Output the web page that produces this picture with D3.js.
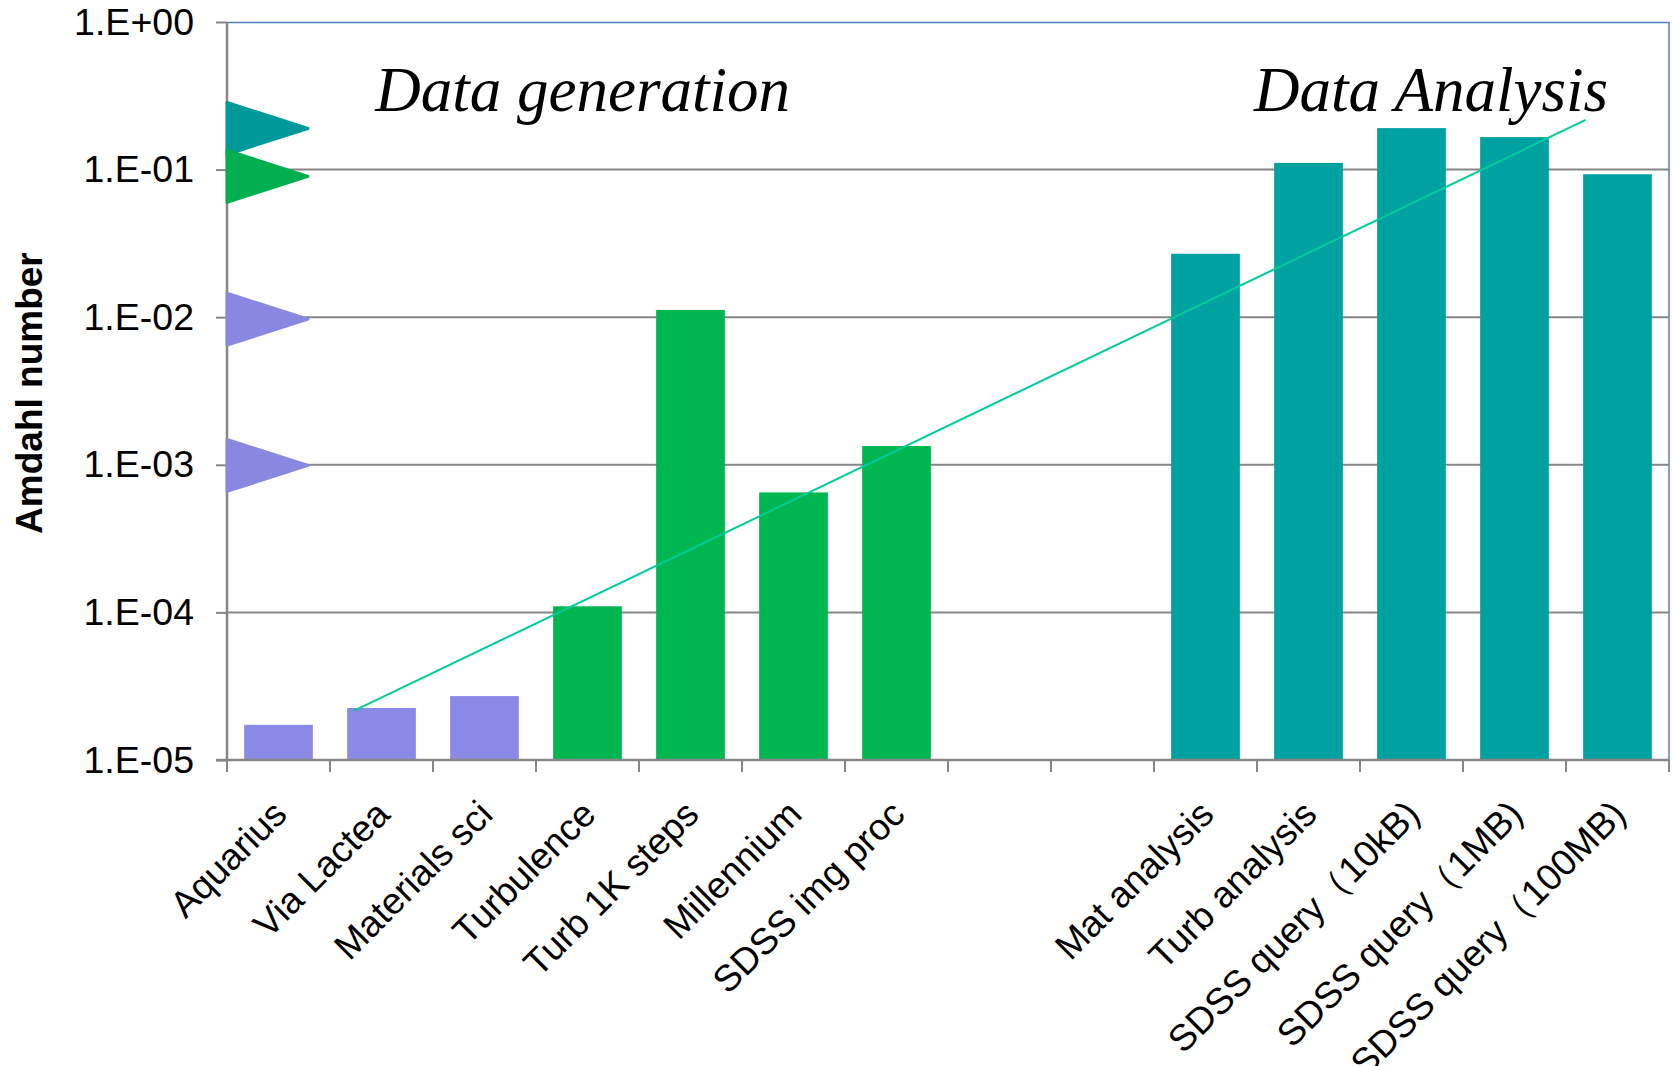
<!DOCTYPE html>
<html>
<head>
<meta charset="utf-8">
<script src="https://cdn.jsdelivr.net/npm/d3@7"></script>
<style>
  html, body { margin: 0; padding: 0; background: #fff; }
  svg { display: block; }
  text { font-family: "Liberation Sans", Arial, sans-serif; fill: #000; }
</style>
</head>
<body>
<svg id="chart" width="1672" height="1066"></svg>
<script>
// Workload names; the two blank slots separate generation from analysis.
const categories = [
  "Aquarius", "Via Lactea", "Materials sci", "Turbulence", "Turb 1K steps",
  "Millennium", "SDSS img proc", "", "", "Mat analysis", "Turb analysis",
  "SDSS query（10kB)", "SDSS query（1MB)", "SDSS query（100MB)"
];
// Amdahl number per workload (null = empty slot).
const amdahl = [
  1.73e-5, 2.25e-5, 2.71e-5, 1.10e-4, 1.12e-2,
  6.5e-4, 1.34e-3, null, null, 2.69e-2, 0.111,
  0.191, 0.166, 0.093
];
// Workload group of each slot.
const groups = [
  "sim", "sim", "sim", "gen", "gen",
  "gen", "gen", null, null, "ana", "ana",
  "ana", "ana", "ana"
];
const groupColors = { sim: "#8a8ae6", gen: "#00b650", ana: "#00a1a1" };

// Reference markers on the value axis.
const markerValues = [0.19, 0.09, 0.0097, 0.00099];
const markerColors = ["#009999", "#00b050", "#8888e0", "#8888e0"];

// Straight trend line, given as (slot position, value) endpoints.
const trendPos = [1.23, 13.19];
const trendVal = [2.15e-5, 0.217];

const yTicks = [1e-5, 1e-4, 1e-3, 1e-2, 1e-1, 1];
const yTickLabels = ["1.E-05", "1.E-04", "1.E-03", "1.E-02", "1.E-01", "1.E+00"];

const yTitle = "Amdahl number";
const notes = [
  { text: "Data generation", pos: 1.44, value: 0.25 },
  { text: "Data Analysis", pos: 9.97, value: 0.25 }
];

const svg = d3.select("#chart");
const m = { left: 227, top: 22, right: 3, bottom: 306 };
const W = 1672 - m.left - m.right;
const H = 1066 - m.top - m.bottom;

const slots = d3.range(categories.length);
const x = d3.scaleBand().domain(slots).range([0, W]).paddingInner(0.333).paddingOuter(0.1665);
const xSlot = d3.scaleLinear().domain([0, categories.length]).range([0, W]);
const y = d3.scaleLog().domain([1e-5, 1]).range([H, 0]);

const g = svg.append("g").attr("transform", `translate(${m.left},${m.top})`);

// Plot-area outline (top and right edges)
g.append("path")
  .attr("d", `M0,0.5H${W}V${H}`)
  .attr("fill", "none").attr("stroke", "#4f81bd").attr("stroke-width", 1.5);

// Horizontal gridlines
g.append("g").selectAll("line").data(yTicks.slice(1, -1)).join("line")
  .attr("x1", 0).attr("x2", W)
  .attr("y1", d => y(d)).attr("y2", d => y(d))
  .attr("stroke", "#868686").attr("stroke-width", 2);

// Bars
g.append("g").selectAll("rect")
  .data(slots.filter(i => amdahl[i] != null)).join("rect")
  .attr("x", i => x(i))
  .attr("width", x.bandwidth())
  .attr("y", i => y(amdahl[i]))
  .attr("height", i => H - y(amdahl[i]))
  .attr("fill", i => groupColors[groups[i]]);

// Trend line
g.append("line")
  .attr("x1", xSlot(trendPos[0])).attr("y1", y(trendVal[0]))
  .attr("x2", xSlot(trendPos[1])).attr("y2", y(trendVal[1]))
  .attr("stroke", "#00cc99").attr("stroke-width", 2);

// Y axis
const yAxis = g.append("g")
  .call(d3.axisLeft(y).tickValues(yTicks).tickFormat((d, i) => yTickLabels[i]).tickSize(11).tickPadding(22));
yAxis.select(".domain").attr("stroke", "#868686").attr("stroke-width", 2.5).attr("d", `M0,0V${H}`);
yAxis.selectAll(".tick line").attr("stroke", "#868686").attr("stroke-width", 2);
yAxis.selectAll(".tick text")
  .style("font-family", "'Liberation Sans', Arial, sans-serif")
  .style("font-size", "37.5px").attr("fill", "#000");

// X axis (ticks at slot boundaries)
const xAxis = g.append("g").attr("transform", `translate(0,${H})`);
xAxis.append("line").attr("x1", -11).attr("x2", W).attr("stroke", "#868686").attr("stroke-width", 2.5);
xAxis.selectAll("line.tk").data(d3.range(categories.length + 1)).join("line")
  .attr("class", "tk")
  .attr("x1", d => xSlot(d)).attr("x2", d => xSlot(d))
  .attr("y1", 0).attr("y2", 12)
  .attr("stroke", "#868686").attr("stroke-width", 2);
xAxis.selectAll("text").data(slots.filter(i => categories[i] !== "")).join("text")
  .attr("transform", i => `translate(${x(i) + x.bandwidth() / 2 - 8},${38}) rotate(-45)`)
  .attr("text-anchor", "end")
  .attr("dy", "0.7em")
  .style("font-size", "37px")
  .text(i => categories[i]);

// Y axis title
svg.append("text")
  .attr("transform", `translate(${42},${m.top + y(0.00306)}) rotate(-90)`)
  .attr("text-anchor", "middle")
  .style("font-size", "37px").style("font-weight", "bold")
  .text(yTitle);

// Arrow markers on the value axis
g.append("g").selectAll("path").data(markerValues).join("path")
  .attr("d", d => {
    const c = y(d);
    return `M0,${c - 26}L81,${c}L0,${c + 26}Z`;
  })
  .attr("fill", (d, i) => markerColors[i])
  .attr("stroke", (d, i) => markerColors[i])
  .attr("stroke-width", 3).attr("stroke-linejoin", "round");

// Section captions
g.append("g").selectAll("text").data(notes).join("text")
  .attr("x", d => xSlot(d.pos)).attr("y", d => y(d.value))
  .style("font-family", "'Liberation Serif', 'Times New Roman', serif")
  .style("font-style", "italic").style("font-size", "63px")
  .text(d => d.text);
</script>
</body>
</html>
